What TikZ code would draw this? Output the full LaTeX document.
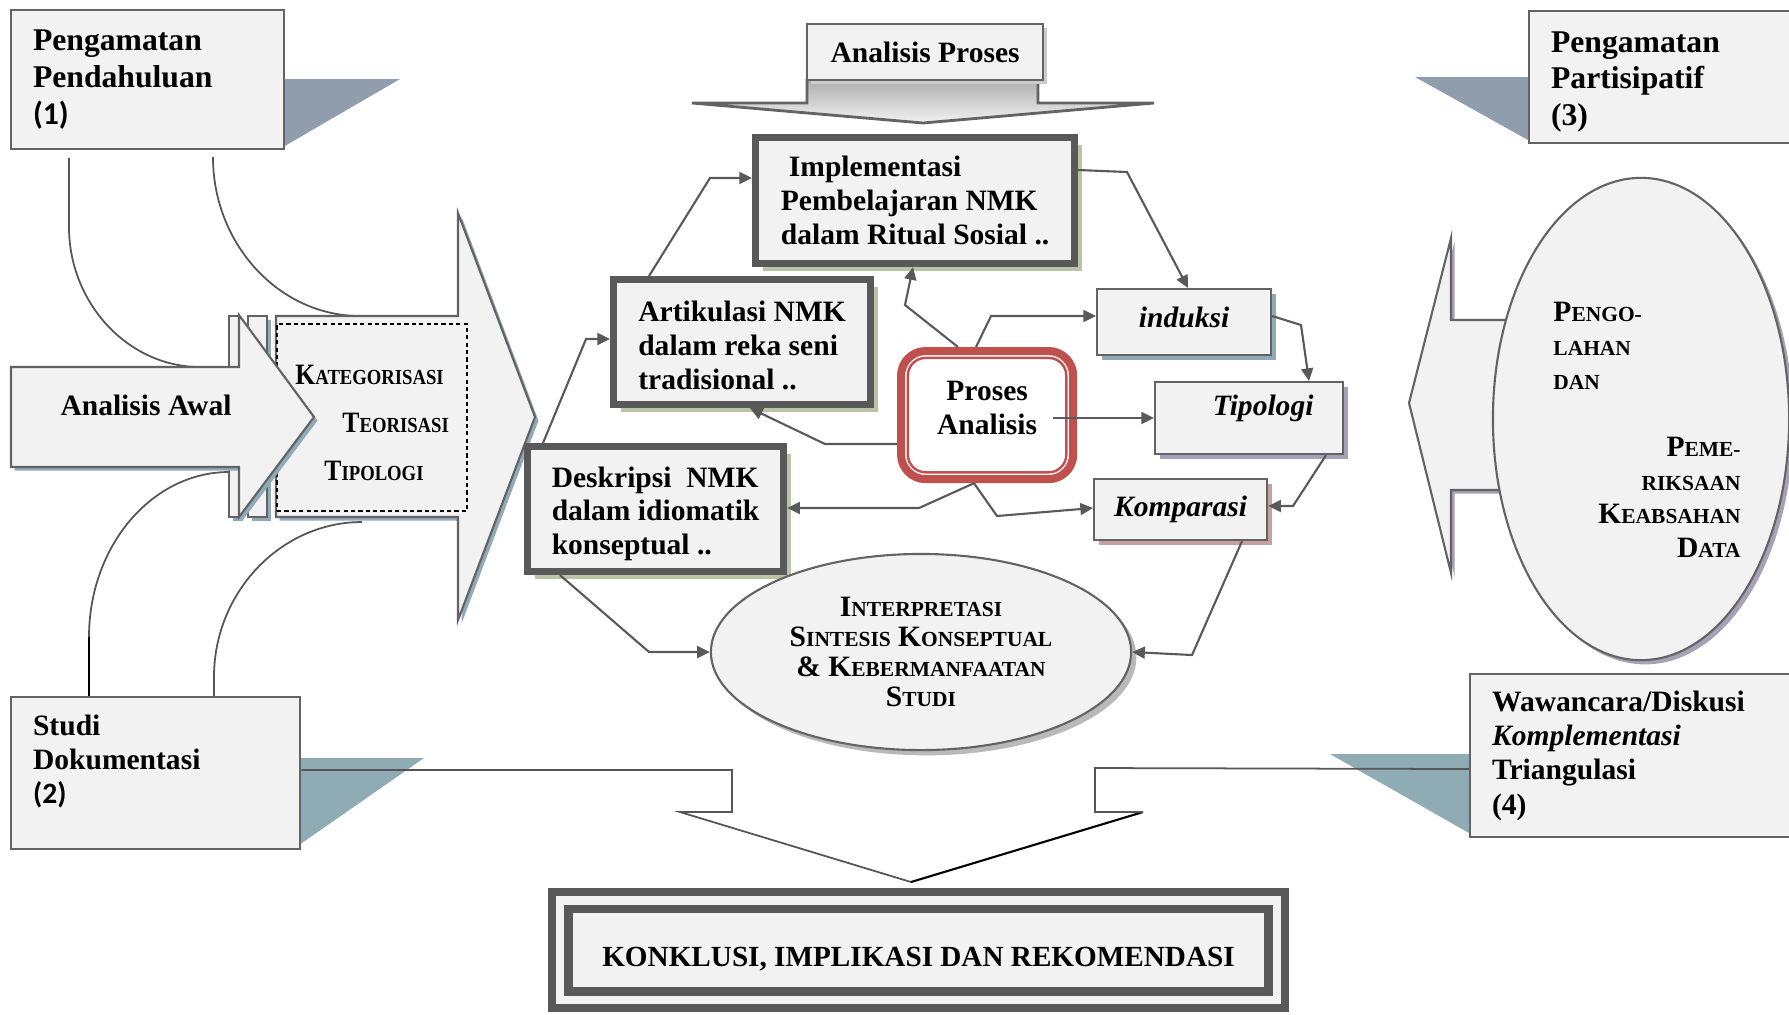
\documentclass[tikz,border=0pt]{standalone}
\usepackage{fontspec}
\usepackage{graphicx}
\setmainfont{Liberation Serif}
\newfontfamily\numfont{Carlito}
\usetikzlibrary{arrows.meta,shapes.geometric,shadows}
\definecolor{boxfill}{HTML}{F2F2F2}
\definecolor{boxline}{HTML}{636363}
\definecolor{stageline}{HTML}{595959}
\definecolor{linkg}{HTML}{555555}
\definecolor{slate}{HTML}{8F9DAD}
\definecolor{tealgray}{HTML}{8FABB4}
\definecolor{oliveshd}{HTML}{B9C3A6}
\definecolor{blueshd}{HTML}{8FAAB5}
\definecolor{lilacshd}{HTML}{A8A0B8}
\definecolor{roseshd}{HTML}{C4A0A0}
\definecolor{arrowshd}{HTML}{8FAAB8}
\definecolor{procred}{HTML}{C0504D}
\newcommand\fakesc[2]{#1{\fontsize{6.1}{6.1}\selectfont #2}}
\begin{document}
\begin{tikzpicture}[x=0.01cm,y=-0.01cm,
  font=\bfseries\fontsize{8.4}{9.6}\selectfont,
  fieldbox/.style={draw=boxline,fill=boxfill,line width=0.6pt,anchor=north west,
    inner xsep=0.22cm,inner ysep=0pt,align=left},
  stagebox/.style={draw=stageline,fill=boxfill,line width=2pt,anchor=north west,
    inner sep=0pt,align=left,
    drop shadow={shadow xshift=2.2pt,shadow yshift=-2.2pt,opacity=1,fill=oliveshd}},
  methbox/.style={draw=boxline,fill=boxfill,line width=0.6pt,anchor=north west,
    inner sep=0pt,font=\bfseries\itshape\fontsize{8.4}{9.6}\selectfont,
    drop shadow={shadow xshift=1.4pt,shadow yshift=-1.4pt,opacity=1,fill=#1}},
  arrowbody/.style={draw=boxline,fill=boxfill,line width=0.6pt,
    drop shadow={shadow xshift=1pt,shadow yshift=-1pt,opacity=1,fill=#1}},
  arrowbody/.default=arrowshd,
  arr/.style={draw=stageline,line width=0.6pt,-{Triangle[length=3.6pt,width=3.4pt]}},
  link/.style={draw=linkg,line width=0.5pt}]
\useasboundingbox (0,0) rectangle (1789,1014);

% callout wedges
\fill[slate] (283,79) -- (400,79) -- (283,147) -- cycle;
\fill[slate] (1528,77) -- (1415,77) -- (1528,140) -- cycle;
\fill[tealgray] (299,758) -- (424,758) -- (299,845) -- cycle;
\fill[tealgray] (1469,754) -- (1330,754) -- (1469,833) -- cycle;

% data sources
\node[fieldbox,text width=2.29cm,minimum height=1.39cm,font=\bfseries\fontsize{9}{10.4}\selectfont]
  (pend) at (10,9) {Pengamatan\\Pendahuluan\\{\numfont (1)}};
\node[fieldbox,text width=2.45cm,minimum height=1.52cm,font=\bfseries\fontsize{8.4}{9.7}\selectfont]
  (doku) at (10,696) {Studi\\Dokumentasi\\{\numfont (2)}\\[-2pt]\mbox{}};
\node[fieldbox,text width=2.6cm,minimum height=1.32cm,font=\bfseries\fontsize{9}{10.4}\selectfont]
  (part) at (1528,10) {\mbox{}\\[-1.8pt]Pengamatan\\Partisipatif\\(3)};
\node[fieldbox,text width=3cm,minimum height=1.63cm,font=\bfseries\fontsize{8.4}{9.8}\selectfont]
  (waw) at (1469,673) {Wawancara/Diskusi\\\textit{Komplementasi}\\Triangulasi\\(4)};

% links from the sources
\draw[link] (pend.south -| 69,0) ++(0,8) -- (69,227) .. controls (69,303) and (128,367) .. (200,367);
\draw[link] (pend.south -| 213,0) ++(0,7) .. controls (213,244) and (279,316) .. (360,316);
\draw[link] (229,472) .. controls (152,472) and (89,546) .. (89,637);
\draw[black,line width=0.6pt] (89,637) -- (doku.north -| 89,0);
\draw[link] (362,522) .. controls (281,522) and (214,592) .. (214,677) -- (doku.north -| 214,0);
\draw[link] (doku.east |- 0,770) -- (732,770) -- (732,812) -- (680,812) -- (911,882);
\draw[black,line width=0.6pt] (911,882) -- (1143,812);
\draw[link] (1143,812) -- (1095,812) -- (1095,768) -- (waw.west |- 0,769);

% first analysis
\filldraw[arrowbody] (229,316) rectangle (239,517);
\filldraw[arrowbody] (248,316) rectangle (267,517);
\filldraw[arrowbody] (276,316) -- (458,316) -- (458,213) -- (535,417) -- (458,620)
  -- (458,517) -- (276,517) -- cycle;
\node[draw=black,dash pattern=on 1.2pt off 0.9pt,line width=0.6pt,fill=boxfill,anchor=north west,
  minimum width=1.9cm,minimum height=1.87cm,inner sep=0pt,align=left,
  font=\bfseries\fontsize{8.4}{13.7}\selectfont] (kat) at (276,323)
  {\mbox{}\\[-5.3pt]\scalebox{0.87}[1]{\fakesc{K}{ATEGORISASI}}\\
   \hspace*{0.47cm}\scalebox{0.87}[1]{\fakesc{T}{EORISASI}}\\
   \hspace*{0.29cm}\scalebox{0.87}[1]{\fakesc{T}{IPOLOGI}}};
\filldraw[arrowbody] (11,367) -- (239,367) -- (239,315) -- (314,417) -- (239,517)
  -- (239,467) -- (11,467) -- cycle;
\node[anchor=base] (awal) at (146,415) {Analisis Awal};

% data processing
\filldraw[arrowbody=lilacshd] (1640,320) -- (1451,320) -- (1451,238) -- (1409,403) -- (1451,573)
  -- (1451,490) -- (1640,490) -- cycle;
\node[ellipse,draw=boxline,fill=boxfill,line width=0.6pt,minimum width=2.96cm,minimum height=4.82cm,
  inner sep=0pt,text width=1.99cm,align=left,font=\bfseries\fontsize{8.4}{9.6}\selectfont,
  drop shadow={shadow xshift=1.2pt,shadow yshift=-1.2pt,opacity=1,fill=lilacshd}] (olah) at (1641,419)
  {\mbox{}\\[2.2pt]
   \hspace*{0.12cm}\fakesc{P}{ENGO-}\\\hspace*{0.12cm}\fakesc{}{LAHAN}\\\hspace*{0.12cm}\fakesc{}{DAN}\\[9.5pt]
   \mbox{}\hfill\fakesc{P}{EME-}\\\mbox{}\hfill\fakesc{}{RIKSAAN}\\
   \mbox{}\hfill\fakesc{K}{EABSAHAN}\\\mbox{}\hfill\fakesc{D}{ATA}};

% process analysis
\shadedraw[top color=gray!65,bottom color=gray!10,draw=boxline,line width=0.8pt]
  (807,79) -- (807,103) -- (692,103) -- (923,123) -- (1154,103) -- (1038,103) -- (1038,79);
\node[draw=boxline,fill=boxfill,line width=0.6pt,anchor=north west,minimum width=2.36cm,
  minimum height=0.56cm,inner sep=0pt,
  drop shadow={shadow xshift=1pt,shadow yshift=-1pt,opacity=1,fill=gray!40}] (proc) at (806,23) {Analisis Proses};

\node[stagebox,minimum width=3.19cm,minimum height=1.26cm] (impl) at (752,134)
  {\hspace*{0.08cm}Implementasi\\Pembelajaran NMK\\dalam Ritual Sosial ..};
\node[stagebox,minimum width=2.57cm,minimum height=1.25cm] (artik) at (610,276)
  {\mbox{}\\[-1.9pt]Artikulasi NMK\\dalam reka seni\\tradisional ..};
\node[stagebox,minimum width=2.56cm,minimum height=1.25cm] (desk) at (524,443)
  {\mbox{}\\[-1.1pt]Deskripsi\ \ NMK\\dalam idiomatik\\konseptual ..};

\node[draw=procred,line width=2.3pt,rounded corners=7pt,fill=white,anchor=north west,
  minimum width=1.72cm,minimum height=1.28cm,inner sep=0pt,align=center] (pa) at (897,347)
  {Proses\\Analisis\\[-5.6pt]\mbox{}};
\draw[procred,line width=0.7pt,rounded corners=5pt]
  ([shift={(3.1pt,-3.1pt)}]pa.north west) rectangle ([shift={(-3.1pt,3.1pt)}]pa.south east);

\node[methbox=blueshd,minimum width=1.74cm,minimum height=0.66cm,text height=5.7pt,text depth=2.6pt]
  (induk) at (1096,288) {induksi};
\node[methbox=lilacshd,minimum width=1.88cm,minimum height=0.72cm,text height=6pt,text depth=7.2pt]
  (tipo) at (1154,381) {\hspace*{0.28cm}Tipologi};
\node[methbox=roseshd,minimum width=1.73cm,minimum height=0.61cm] (komp) at (1093,478) {Komparasi};

\node[ellipse,draw=boxline,fill=boxfill,line width=0.6pt,minimum width=4.2cm,minimum height=1.96cm,
  inner sep=0pt,align=center,font=\bfseries\fontsize{8.4}{8.6}\selectfont,
  drop shadow={shadow xshift=1.5pt,shadow yshift=-1.5pt,opacity=1,fill=gray!55}] (interp) at (921,652)
  {\fakesc{I}{NTERPRETASI}\\\fakesc{S}{INTESIS} \fakesc{K}{ONSEPTUAL}\\
   \& \fakesc{K}{EBERMANFAATAN}\\\fakesc{S}{TUDI}};

\node[draw=stageline,line width=2.4pt,double=boxfill,double distance=2.3pt,fill=boxfill,
  minimum width=7.16cm,minimum height=0.99cm,inner sep=0pt,text height=9.6pt,text depth=0pt,
  font=\bfseries\fontsize{8.3}{9}\selectfont] (konk) at (918.5,950)
  {KONKLUSI, IMPLIKASI DAN REKOMENDASI};

% connectors
\draw[arr] (artik.north -| 649,0) -- (710,178) -- (impl.west |- 0,178);
\draw[arr] (desk.north -| 543,0) -- (586,339) -- (artik.west |- 0,339);
\draw[arr] (impl.east |- 0,170) -- (1127,172) -- (induk.north -| 1188,0);
\draw[arr] (pa.north -| 958,0) -- (905,305) -- (impl.south -| 913,0);
\draw[arr] (pa.north -| 976,0) -- (991,316) -- (induk.west |- 0,316);
\draw[arr] (pa.west |- 0,444) -- (825,444) -- (artik.south -| 750,0);
\draw[arr] (pa.east |- 0,418) ++(-24,0) -- (tipo.west |- 0,418);
\draw[arr] (pa.south -| 974,0) -- (919,508) -- (desk.east |- 0,508);
\draw[arr] (pa.south -| 974,0) -- (997,516) -- (komp.west |- 0,508);
\draw[arr] (induk.east |- 0,316) -- (1301,325) -- (tipo.north -| 1309,0);
\draw[arr] (tipo.south -| 1326,0) -- (1293,506) -- (komp.east |- 0,506);
\draw[arr] (komp.south -| 1242,0) -- (1192,655) -- (interp.east);
\draw[arr] (desk.south -| 560,0) -- (649,652) -- (interp.west);
\end{tikzpicture}
\end{document}
